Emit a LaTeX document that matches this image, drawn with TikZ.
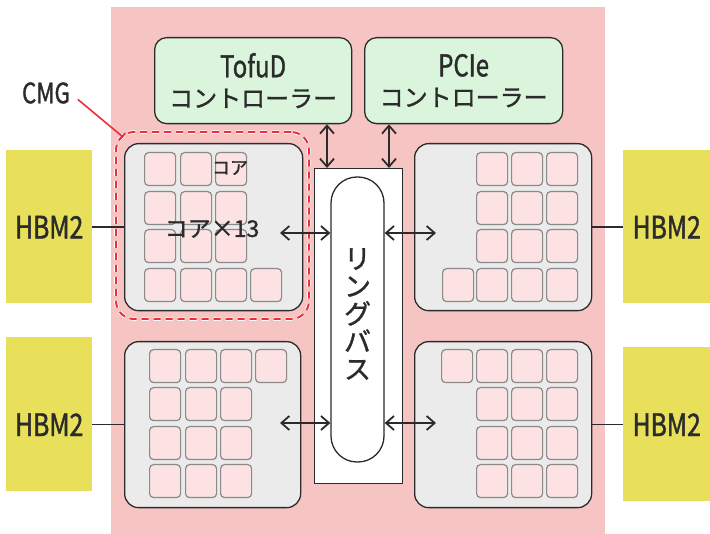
\documentclass[tikz,border=0pt]{standalone}
\usepackage{fontspec}
\setmainfont{Noto Sans CJK JP}[FakeBold=1.2]
\newfontfamily\latinf{Noto Sans CJK JP}[FakeStretch=0.8, FakeBold=1.2]
\usetikzlibrary{arrows.meta}
\definecolor{bgpink}{HTML}{F7C4C4}
\definecolor{ctrlgreen}{HTML}{DAF5DC}
\definecolor{cmggray}{HTML}{EBEBEB}
\definecolor{corepink}{HTML}{FCE2E2}
\definecolor{coregray}{HTML}{8A8A8A}
\definecolor{hbmyellow}{HTML}{E8E05A}
\definecolor{cmgred}{HTML}{E8303A}
\definecolor{linedark}{HTML}{2B2B2B}
\tikzset{
  ctrlbox/.style={fill=ctrlgreen, draw=linedark, line width=1.3pt, rounded corners=12pt, align=center, inner sep=0pt, anchor=north west, text=linedark},
  cmgbox/.style={fill=cmggray, draw=linedark, line width=1.3pt, rounded corners=14pt, inner sep=0pt, anchor=north west},
  corebox/.style={fill=corepink, draw=coregray, line width=1.2pt, rounded corners=4pt, minimum width=31pt, minimum height=33pt, inner sep=0pt, anchor=north west},
  hbmbox/.style={fill=hbmyellow, inner sep=0pt, anchor=north west},
  hbmtext/.style={font=\latinf\fontsize{31}{31}\selectfont, text=linedark, inner sep=0pt},
  dbl/.style={draw=linedark, line width=1.5pt, {Straight Barb[length=8pt,width=14pt,line width=1.8pt]}-{Straight Barb[length=8pt,width=14pt,line width=1.8pt]}},
  conn/.style={draw=linedark, line width=1.3pt},
}
\begin{document}
\begin{tikzpicture}[x=1pt,y=-1pt]
\useasboundingbox (0,0) rectangle (710,534);
\fill[bgpink] (111,7) rectangle (605,534);

% controllers
\node[ctrlbox, minimum width=197pt, minimum height=86pt] (tofu) at (154,37)
  {{\latinf\fontsize{30}{30}\selectfont TofuD}\\[10pt]{\fontsize{24}{24}\selectfont コントローラー}};
\node[ctrlbox, minimum width=198pt, minimum height=86pt] (pcie) at (364,37)
  {{\latinf\fontsize{30}{30}\selectfont PCIe}\\[10pt]{\fontsize{24}{24}\selectfont コントローラー}};

% HBM2 blocks
\node[hbmbox, minimum width=86pt, minimum height=153pt] (hbmA) at (6,150) {};
\node[hbmbox, minimum width=86pt, minimum height=154pt] (hbmB) at (6,337) {};
\node[hbmbox, minimum width=87pt, minimum height=153pt] (hbmC) at (623,150) {};
\node[hbmbox, minimum width=87pt, minimum height=154pt] (hbmD) at (623,347) {};

% CMG dashed outline
\node[anchor=north west, inner sep=0pt, minimum width=193pt, minimum height=187pt,
  rounded corners=18pt, draw=cmgred, line width=2pt, dash pattern=on 7pt off 5pt,
  preaction={draw=white, line width=3.6pt, rounded corners=18pt}] (cmgdash) at (115,131) {};

% CMG blocks
\node[cmgbox, minimum width=178pt, minimum height=167pt] (cmgA) at (124,143) {};
\node[cmgbox, minimum width=177pt, minimum height=167pt] (cmgC) at (414,143) {};
\node[cmgbox, minimum width=176pt, minimum height=166pt] (cmgB) at (124,341) {};
\node[cmgbox, minimum width=177pt, minimum height=166pt] (cmgD) at (414,341) {};

% cores top-left
\foreach \i/\x in {1/144,2/180,3/215}
  \foreach \j/\y in {1/152,2/191,3/229,4/268}
    \node[corebox] (ca\i\j) at (\x,\y) {};
\node[corebox] (ca44) at (250,268) {};
% cores top-right
\foreach \i/\x in {2/476,3/511,4/546}
  \foreach \j/\y in {1/152,2/191,3/229,4/268}
    \node[corebox] (cc\i\j) at (\x,\y) {};
\node[corebox] (cc14) at (442,268) {};
% cores bottom-left
\foreach \i/\x in {1/149,2/185,3/220}
  \foreach \j/\y in {1/349,2/387,3/426,4/464}
    \node[corebox] (cb\i\j) at (\x,\y) {};
\node[corebox] (cb41) at (255,349) {};
% cores bottom-right
\foreach \i/\x in {2/476,3/511,4/546}
  \foreach \j/\y in {1/349,2/387,3/426,4/464}
    \node[corebox] (cd\i\j) at (\x,\y) {};
\node[corebox] (cd11) at (441,349) {};

% core labels
\node[inner sep=0pt, text=linedark, font=\fontsize{18}{18}\selectfont] (corelbl) at (230,168) {コア};
\node[inner sep=0pt, text=linedark, font=\fontsize{23}{23}\selectfont] (corecnt) at (212,229) {コア×13};

% ring bus
\node[anchor=north west, draw=linedark, fill=white, line width=1.3pt, inner sep=0pt,
  minimum width=88pt, minimum height=315pt] (ringbox) at (314,168) {};
\node[draw=linedark, fill=white, line width=1.3pt, inner sep=0pt, rounded corners=26pt,
  minimum width=53pt, minimum height=285pt] (ring) at (357.5,319.5) {};
\node[align=center, inner sep=0pt, text=linedark, font=\fontsize{27}{27.6}\selectfont] (ringtxt) at (357.5,314) {リ\\ン\\グ\\バ\\ス};

% controller arrows
\coordinate (tx) at (327,0);
\coordinate (px) at (389,0);
\draw[dbl] (tofu.south -| tx) -- (ringbox.north -| tx);
\draw[dbl] (pcie.south -| px) -- (ringbox.north -| px);

% CMG <-> ring arrows
\coordinate (aA) at (280,233);
\coordinate (aC) at (436,233);
\coordinate (aB) at (280,423);
\coordinate (aD) at (436,423);
\draw[dbl] (aA) -- (aA -| ring.west);
\draw[dbl] (aC -| ring.east) -- (aC);
\draw[dbl] (aB) -- (aB -| ring.west);
\draw[dbl] (aD -| ring.east) -- (aD);

% HBM2 links and labels
\draw[conn] (cmgA.west) -- (cmgA.west -| hbmA.east);
\draw[conn] (cmgB.west) -- (cmgB.west -| hbmB.east);
\draw[conn] (cmgC.east) -- (cmgC.east -| hbmC.west);
\draw[conn] (cmgD.east) -- (cmgD.east -| hbmD.west);
\node[hbmtext] (tA) at (hbmA.center |- cmgA.west) {HBM2};
\node[hbmtext] (tB) at (hbmB.center |- cmgB.west) {HBM2};
\node[hbmtext] (tC) at (hbmC.center |- cmgC.east) {HBM2};
\node[hbmtext] (tD) at (hbmD.center |- cmgD.east) {HBM2};

% CMG label
\node[inner sep=0pt, text=linedark, font=\latinf\fontsize{28}{28}\selectfont] (cmglbl) at (46,93) {CMG};
\coordinate (cmgcorner) at (123,137);
\draw[cmgred, line width=1.6pt, shorten <=10pt, -{Bar[width=9pt]}] (cmglbl.east) -- (cmgcorner);
\end{tikzpicture}
\end{document}
